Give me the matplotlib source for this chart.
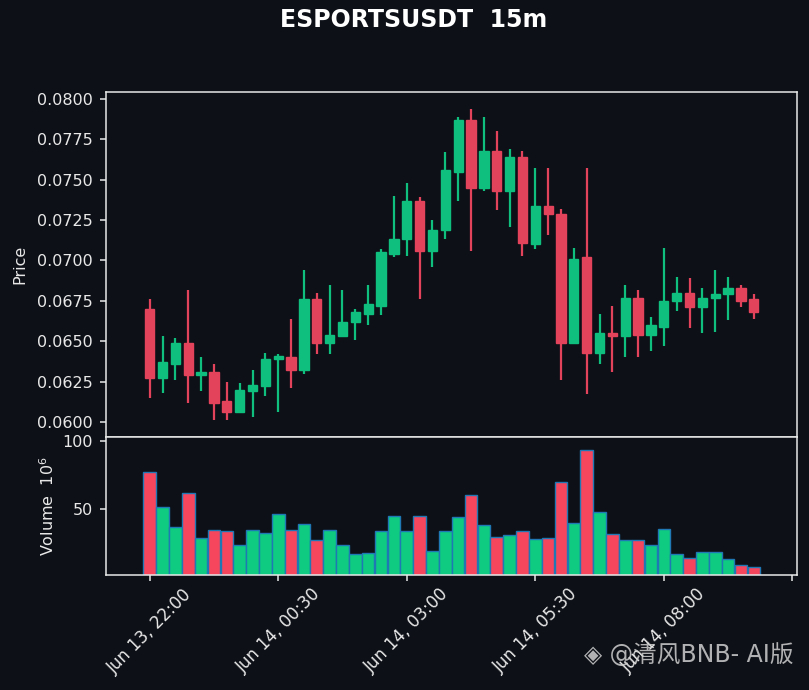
import numpy as np
import pandas as pd
import matplotlib
matplotlib.use('Agg')
import matplotlib.pyplot as plt

plt.rcParams['font.family'] = ['DejaVu Sans', 'Noto Sans CJK SC']

# 15m candles, Jun 13 22:00 -> Jun 14 09:45
times = pd.date_range('2024-06-13 22:00', periods=48, freq='15min')

opens = [0.0670, 0.0627, 0.0636, 0.0649, 0.0629, 0.0631, 0.0613, 0.0606, 0.0619, 0.0622,
         0.0639, 0.0640, 0.0632, 0.0676, 0.0649, 0.0653, 0.0662, 0.0667, 0.0672, 0.0704,
         0.0713, 0.0737, 0.0706, 0.0719, 0.0755, 0.0787, 0.0745, 0.0768, 0.0743, 0.0764,
         0.0710, 0.0734, 0.0729, 0.0649, 0.0702, 0.0643, 0.0655, 0.0653, 0.0677, 0.0654,
         0.0659, 0.0675, 0.0680, 0.0671, 0.0677, 0.0679, 0.0683, 0.0676]
closes = [0.0627, 0.0637, 0.0649, 0.0629, 0.0631, 0.0612, 0.0606, 0.0620, 0.0623, 0.0639,
          0.0641, 0.0632, 0.0676, 0.0649, 0.0654, 0.0662, 0.0668, 0.0673, 0.0705, 0.0713,
          0.0737, 0.0706, 0.0719, 0.0756, 0.0787, 0.0745, 0.0768, 0.0743, 0.0764, 0.0711,
          0.0734, 0.0729, 0.0649, 0.0701, 0.0643, 0.0655, 0.0653, 0.0677, 0.0654, 0.0660,
          0.0675, 0.0680, 0.0671, 0.0677, 0.0679, 0.0683, 0.0675, 0.0668]
highs = [0.0676, 0.0653, 0.0652, 0.0682, 0.0640, 0.0636, 0.0625, 0.0624, 0.0632, 0.0643,
         0.0642, 0.0664, 0.0694, 0.0680, 0.0685, 0.0682, 0.0670, 0.0685, 0.0707, 0.0740,
         0.0748, 0.0739, 0.0725, 0.0767, 0.0789, 0.0794, 0.0789, 0.0780, 0.0769, 0.0768,
         0.0757, 0.0757, 0.0732, 0.0708, 0.0757, 0.0667, 0.0672, 0.0685, 0.0682, 0.0665,
         0.0708, 0.0690, 0.0689, 0.0683, 0.0694, 0.0690, 0.0685, 0.0679]
lows = [0.0615, 0.0618, 0.0626, 0.0612, 0.0619, 0.0601, 0.0601, 0.0606, 0.0603, 0.0616,
        0.0606, 0.0621, 0.0630, 0.0642, 0.0642, 0.0653, 0.0651, 0.0660, 0.0666, 0.0702,
        0.0703, 0.0676, 0.0696, 0.0713, 0.0737, 0.0706, 0.0743, 0.0731, 0.0721, 0.0703,
        0.0707, 0.0716, 0.0626, 0.0648, 0.0617, 0.0636, 0.0631, 0.0640, 0.0640, 0.0644,
        0.0647, 0.0669, 0.0658, 0.0655, 0.0656, 0.0663, 0.0671, 0.0664]
volumes = [77.4, 52.1, 37.0, 62.2, 29.0, 34.8, 34.1, 24.0, 34.8, 32.6,
           46.4, 34.8, 39.1, 27.6, 34.8, 24.0, 17.5, 18.2, 34.1, 45.6,
           34.1, 45.6, 19.6, 34.1, 44.2, 60.8, 38.4, 29.7, 31.2, 34.1,
           28.3, 29.0, 70.2, 39.9, 93.3, 48.5, 31.9, 27.6, 27.6, 24.0,
           35.5, 17.5, 14.6, 18.9, 18.9, 13.9, 9.5, 8.1]  # x 10^6

bg = '#0d1017'
fg = '#e8e8e8'
up_c, down_c = '#0ebf7e', '#e3435b'
vol_up, vol_down = '#0ecb81', '#f6465d'

fig = plt.figure(figsize=(8.09, 6.90), dpi=100, facecolor=bg)
ax = fig.add_axes([0.131, 0.3667, 0.854, 0.5], facecolor=bg)
axv = fig.add_axes([0.131, 0.1667, 0.854, 0.2], facecolor=bg, sharex=ax)

x = np.arange(len(times))
o = np.array(opens); c = np.array(closes)
up = c >= o
cols = np.where(up, up_c, down_c)

ax.vlines(x, lows, highs, colors=cols, linewidth=1.6, zorder=2)
ax.bar(x, np.abs(c - o), bottom=np.minimum(o, c), width=0.72,
       color=cols, edgecolor=cols, linewidth=1, zorder=3)

vcols = np.where(up, vol_up, vol_down)
axv.bar(x, volumes, width=0.98, color=vcols, edgecolor='#1f77b4', linewidth=1)

ax.set_xlim(-3.4, 50.35)
ax.set_ylim(0.05907, 0.08043)
ax.set_yticks(np.arange(0.0600, 0.08001, 0.0025))
ax.yaxis.set_major_formatter(matplotlib.ticker.FormatStrFormatter('%.4f'))
ax.set_ylabel('Price', color=fg, fontsize=11.5, labelpad=7)

axv.set_ylim(0.3 * min(volumes), 1.1 * max(volumes))
axv.set_yticks([50, 100])
axv.set_ylabel('Volume  $10^{6}$', color=fg, fontsize=11.5, labelpad=4)

ticks = [0, 10, 20, 30, 40, 50]
labels = [times[i].strftime('%b %d, %H:%M') if i < len(times) else '' for i in ticks]
axv.set_xticks(ticks)
axv.set_xticklabels(labels, rotation=45, ha='center')
plt.setp(ax.get_xticklabels(), visible=False)

for a in (ax, axv):
    for s in a.spines.values():
        s.set_color(fg)
        s.set_linewidth(1.1)
    a.tick_params(colors=fg, labelsize=11.5, length=4.5, width=1.1, pad=5)
ax.tick_params(axis='x', length=0)
axv.tick_params(axis='x', labelsize=12, pad=3)

fig.suptitle('ESPORTSUSDT  15m', color='white', fontsize=17, fontweight='bold', y=0.988, x=0.511)

fig.text(0.722, 0.04, '◈ @清风BNB- AI版', color='#cfcfcf', alpha=0.85, fontsize=17)

fig.savefig('out.png', facecolor=bg)
